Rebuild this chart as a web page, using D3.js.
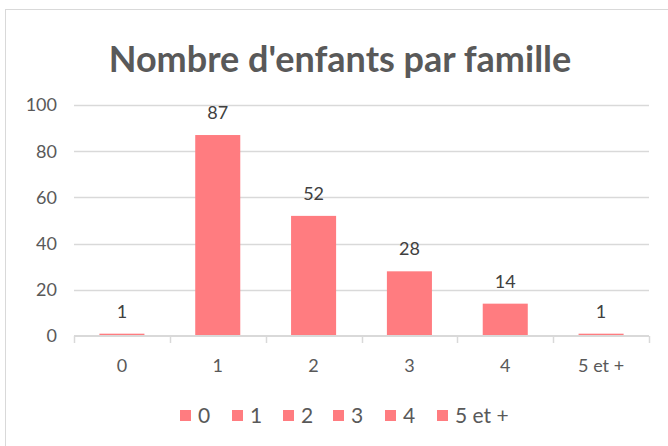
<!DOCTYPE html>
<html>
<head>
<meta charset="utf-8">
<script src="https://cdn.jsdelivr.net/npm/d3@7"></script>
<style>
  body { margin: 0; background: #fff; }
  svg { font-family: Lato, "Open Sans", sans-serif; }
</style>
</head>
<body>
<div id="chart"></div>
<script>
// données
var categories = ["0", "1", "2", "3", "4", "5 et +"];
var valeurs = [1, 87, 52, 28, 14, 1];
var yTicks = [0, 20, 40, 60, 80, 100];
var titre = "Nombre d'enfants par famille";

var width = 668, height = 446;
var couleur = "#ff7c80";
var gris = "#d9d9d9";

var svg = d3.select("#chart").append("svg")
    .attr("width", width)
    .attr("height", height);

// cadre
svg.append("rect")
    .attr("x", 5.5).attr("y", 9.5)
    .attr("width", 670).attr("height", 445)
    .attr("fill", "#fff")
    .attr("stroke", gris);

var x0 = 74, x1 = 649;

var x = d3.scaleBand()
    .domain(categories)
    .range([x0, x1])
    .paddingInner(0.53)
    .paddingOuter(0.265);

var xb = d3.scaleBand().domain(categories).range([x0, x1]);

var y = d3.scaleLinear().domain([0, 100]).range([336, 105]);

// titre
svg.append("text")
    .attr("x", 340).attr("y", 72)
    .attr("text-anchor", "middle")
    .attr("font-size", 36)
    .attr("font-weight", "bold")
    .attr("fill", "#595959")
    .text(titre);

// grille
svg.append("g").selectAll("line")
    .data(yTicks.filter(function(d) { return d > 0; }))
    .enter().append("line")
    .attr("x1", x0).attr("x2", x1)
    .attr("y1", function(d) { return Math.round(y(d)) + 0.5; })
    .attr("y2", function(d) { return Math.round(y(d)) + 0.5; })
    .attr("stroke", gris)
    .attr("stroke-width", 1.5);

// axe y (étiquettes)
svg.append("g").selectAll("text")
    .data(yTicks)
    .enter().append("text")
    .attr("x", 57)
    .attr("y", function(d) { return y(d); })
    .attr("dy", "0.35em")
    .attr("text-anchor", "end")
    .attr("font-size", 18)
    .attr("fill", "#595959")
    .text(function(d) { return d; });

// barres
svg.append("g").selectAll("rect")
    .data(valeurs)
    .enter().append("rect")
    .attr("x", function(d, i) { return x(categories[i]); })
    .attr("y", function(d) { return y(d); })
    .attr("width", x.bandwidth())
    .attr("height", function(d) { return y(0) - y(d); })
    .attr("fill", couleur);

// étiquettes de valeurs
svg.append("g").selectAll("text")
    .data(valeurs)
    .enter().append("text")
    .attr("x", function(d, i) { return x(categories[i]) + x.bandwidth() / 2; })
    .attr("y", function(d) { return y(d) - 16; })
    .attr("text-anchor", "middle")
    .attr("font-size", 18)
    .attr("fill", "#404040")
    .text(function(d) { return d; });

// axe x
var gx = svg.append("g").attr("transform", "translate(0," + Math.round(y(0)) + ")");
gx.append("line").attr("x1", x0).attr("x2", x1).attr("stroke", gris).attr("stroke-width", 2);
gx.selectAll(".tk")
    .data(d3.range(categories.length + 1))
    .enter().append("line")
    .attr("class", "tk")
    .attr("x1", function(i) { return Math.round(x0 + i * xb.step()) + 0.5; })
    .attr("x2", function(i) { return Math.round(x0 + i * xb.step()) + 0.5; })
    .attr("y1", 0).attr("y2", 7)
    .attr("stroke", gris)
    .attr("stroke-width", 1.5);
gx.selectAll(".lbl")
    .data(categories)
    .enter().append("text")
    .attr("class", "lbl")
    .attr("x", function(d) { return xb(d) + xb.bandwidth() / 2; })
    .attr("y", 36)
    .attr("text-anchor", "middle")
    .attr("font-size", 18)
    .attr("fill", "#595959")
    .text(function(d) { return d; });

// légende
var legPos = [180, 232, 283, 333, 385, 437];
var leg = svg.append("g").selectAll("g")
    .data(categories)
    .enter().append("g")
    .attr("transform", function(d, i) { return "translate(" + legPos[i] + ",0)"; });
leg.append("rect")
    .attr("x", 0).attr("y", 410)
    .attr("width", 11).attr("height", 11)
    .attr("fill", couleur);
leg.append("text")
    .attr("x", 18).attr("y", 423)
    .attr("font-size", 21)
    .attr("fill", "#595959")
    .text(function(d) { return d; });
</script>
</body>
</html>
